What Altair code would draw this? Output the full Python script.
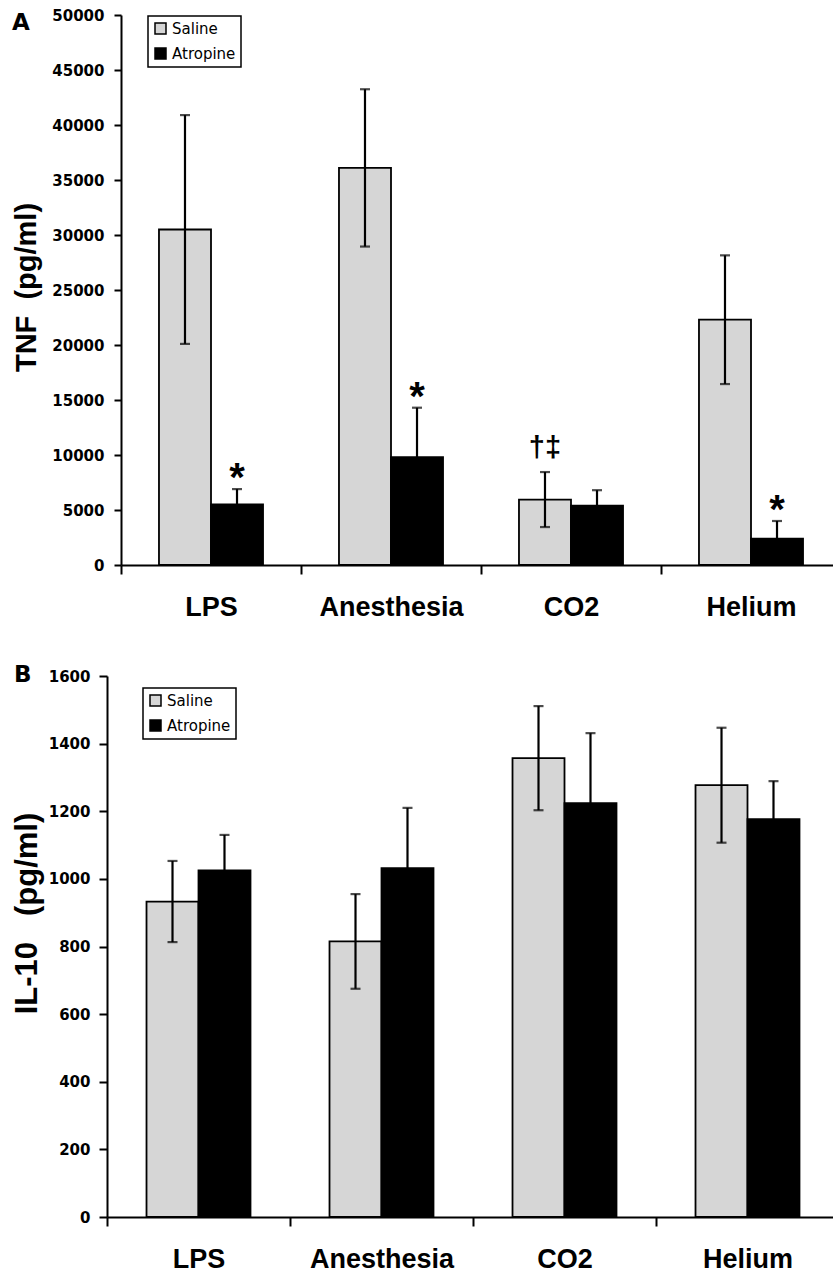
import altair as alt
import pandas as pd

groups = ["LPS", "Anesthesia", "CO2", "Helium"]
series = ["Saline", "Atropine"]

# Panel A: TNF (pg/ml)
tnf_saline = [30500, 36100, 5950, 22300]
tnf_saline_err = [10400, 7150, 2500, 5850]
tnf_atropine = [5500, 9800, 5400, 2400]
tnf_atropine_err = [1400, 4500, 1400, 1600]
tnf_saline_marks = ["", "", "†‡", ""]
tnf_atropine_marks = ["*", "*", "", "*"]

# Panel B: IL-10 (pg/ml)
il10_saline = [933, 815, 1357, 1277]
il10_saline_err = [120, 140, 154, 170]
il10_atropine = [1025, 1032, 1224, 1177]
il10_atropine_err = [105, 178, 207, 112]
il10_saline_marks = ["", "", "", ""]
il10_atropine_marks = ["", "", "", ""]

W, H = 833, 1275


def build_df(sal, sal_err, atr, atr_err, sal_marks, atr_marks):
    rows = []
    for i, g in enumerate(groups):
        for s, v, e, m in (("Saline", sal[i], sal_err[i], sal_marks[i]),
                           ("Atropine", atr[i], atr_err[i], atr_marks[i])):
            rows.append({"group": g, "series": s, "value": v,
                         "lo": v - e, "hi": v + e, "mark": m})
    return pd.DataFrame(rows)


def panel(df, ymax, ystep, ytitle, title_size, title_x, title_y,
          x_range, y_range, po, legend_x, legend_y, y_tick, y_pad):
    yscale = alt.Scale(domain=[0, ymax], nice=False, zero=True, range=y_range)
    yaxis = alt.Axis(orient="left", offset=-x_range[0],
                     values=list(range(0, ymax + 1, ystep)), format="d",
                     title=ytitle, titleFont="Liberation Sans",
                     titleFontWeight="bold", titleFontSize=title_size,
                     titleX=title_x, titleY=title_y, titleAngle=270,
                     titleAlign="center", titleBaseline="alphabetic",
                     labelFont="DejaVu Sans", labelFontWeight="bold",
                     labelFontSize=15, labelPadding=y_pad,
                     tickSize=y_tick, tickWidth=2, domainWidth=2,
                     grid=False, labelColor="black", tickColor="black",
                     domainColor="black", titleColor="black")
    base = alt.Chart(df).encode(
        x=alt.X("group:N", sort=groups,
                scale=alt.Scale(paddingInner=0, paddingOuter=0, range=x_range),
                axis=alt.Axis(orient="bottom", offset=y_range[0] - H,
                              title=None, tickBand="extent", labelAngle=0,
                              labelFont="Liberation Sans", labelFontWeight="bold",
                              labelFontSize=27, labelPadding=20, tickSize=9,
                              tickWidth=2, domainWidth=2, labelColor="black",
                              tickColor="black", domainColor="black", grid=False)),
        xOffset=alt.XOffset("series:N", sort=series,
                            scale=alt.Scale(paddingInner=0, paddingOuter=po)),
    )
    bars = base.mark_bar(stroke="black", strokeWidth=1.8).encode(
        y=alt.Y("value:Q", scale=yscale, axis=yaxis, title=ytitle),
        fill=alt.Fill("series:N", sort=series,
                      scale=alt.Scale(domain=series, range=["#d6d6d6", "#000000"]),
                      legend=alt.Legend(title=None, orient="none",
                                        legendX=legend_x, legendY=legend_y,
                                        strokeColor="black", fillColor="white",
                                        padding=5, rowPadding=8,
                                        symbolType="square", symbolSize=121,
                                        symbolStrokeColor="black",
                                        symbolStrokeWidth=1.5,
                                        labelFont="DejaVu Sans", labelFontSize=15,
                                        labelColor="black", labelOffset=4)),
    )
    err = base.mark_rule(color="black", strokeWidth=2.2).encode(
        y=alt.Y("lo:Q", scale=yscale, title=ytitle), y2="hi:Q")
    cap_hi = base.mark_tick(color="black", thickness=2.2, size=10).encode(
        y=alt.Y("hi:Q", scale=yscale, title=ytitle))
    cap_lo = base.mark_tick(color="black", thickness=2.2, size=10).encode(
        y=alt.Y("lo:Q", scale=yscale, title=ytitle))
    stars = base.mark_text(font="Liberation Sans", fontWeight="bold", fontSize=40,
                           baseline="alphabetic", dy=2, color="black").encode(
        y=alt.Y("hi:Q", scale=yscale, title=ytitle), text="mark:N"
    ).transform_filter(alt.datum.mark == "*")
    daggers = base.mark_text(font="Liberation Sans", fontWeight="bold", fontSize=29,
                             baseline="alphabetic", dy=-15, color="black").encode(
        y=alt.Y("hi:Q", scale=yscale, title=ytitle), text="mark:N"
    ).transform_filter(alt.datum.mark == "†‡")
    return alt.layer(bars, err, cap_hi, cap_lo, stars, daggers)


def letter(t, x, y):
    return alt.Chart(pd.DataFrame({"t": [t]})).mark_text(
        font="DejaVu Sans", fontWeight="bold", fontSize=23, align="left",
        baseline="top", color="black").encode(
        x=alt.value(x), y=alt.value(y), text="t:N")


df_a = build_df(tnf_saline, tnf_saline_err, tnf_atropine, tnf_atropine_err,
                tnf_saline_marks, tnf_atropine_marks)
df_b = build_df(il10_saline, il10_saline_err, il10_atropine, il10_atropine_err,
                il10_saline_marks, il10_atropine_marks)

NB = "\u00a0"
chart_a = panel(df_a, 50000, 5000, "TNF" + NB + NB + "(pg/ml)", 29, -86, 287,
                [121, 841], [565, 15], 0.73, 148, 16, 7, 10)
chart_b = panel(df_b, 1600, 200, "IL-10" + NB + NB + NB + "(pg/ml)", 31, -71, 913,
                [107, 839], [1217, 676], 0.76, 143, 688, 8, 9)

chart = alt.layer(
    chart_a, chart_b, letter("A", 12, 12), letter("B", 14, 664)
).resolve_scale(
    x="independent", y="independent", xOffset="independent", fill="independent"
).resolve_axis(
    x="independent", y="independent"
).resolve_legend(
    fill="independent"
).properties(
    width=W, height=H, padding=0, background="white",
    autosize=alt.AutoSizeParams(type="none")
).configure_view(stroke=None).configure_legend(strokeWidth=1.5)

chart.save("out.html", embed_options={"renderer": "svg", "actions": False})
